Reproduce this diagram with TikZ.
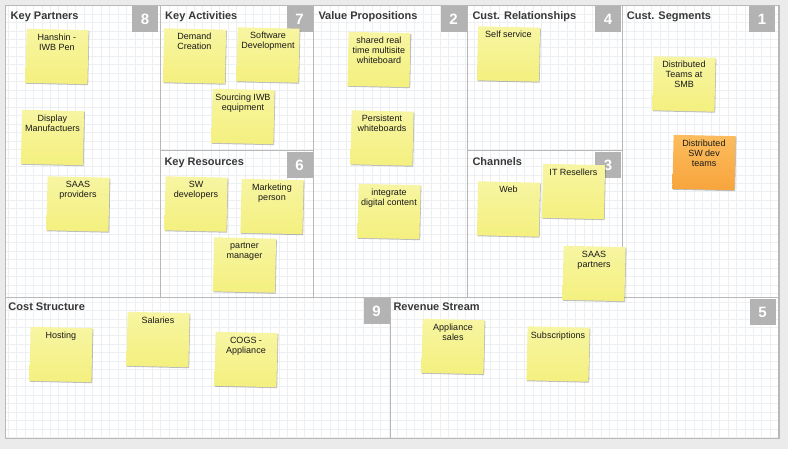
\documentclass[tikz,border=0pt]{standalone}
\usepackage{fontspec}
\setmainfont{Liberation Sans}
\usetikzlibrary{shadows}
\definecolor{bg}{HTML}{EBEBEB}
\definecolor{gridc}{HTML}{ECF0F3}
\definecolor{cellline}{HTML}{B8B8B8}
\definecolor{badgec}{HTML}{B3B3B3}
\definecolor{titlec}{HTML}{383838}
\definecolor{noteTop}{HTML}{F7F5A2}
\definecolor{noteBot}{HTML}{F4F07F}
\definecolor{orTop}{HTML}{FCBD5E}
\definecolor{orBot}{HTML}{F8A43C}
\newcommand{\notetext}[1]{\parbox[c][54pt][t]{62pt}{\centering\vspace*{4pt}\strut#1\par}}
\tikzset{
 cell/.style={draw=cellline, line width=1pt},
 gridline/.style={draw=gridc, line width=0.7pt},
 title/.style={anchor=base west, font=\fontsize{11}{13}\selectfont\bfseries, text=titlec, inner sep=0pt},
 badge/.style={fill=badgec, minimum size=26pt, inner sep=0pt, font=\fontsize{15}{15}\selectfont\bfseries, text=white},
 note/.style={inner sep=0pt, minimum width=62pt, minimum height=54pt, rotate=-1.3, top color=noteTop, bottom color=noteBot,
   drop shadow={shadow xshift=0.8pt, shadow yshift=-1pt, opacity=0.25, fill=black}},
 onote/.style={note, top color=orTop, bottom color=orBot},
 ntext/.style={inner sep=0pt, font=\fontsize{9}{10}\selectfont, text=black!90},
}
\newcommand{\sticky}[5][note]{%
  \node[#1] (#2) at (#3) {};
  \node[ntext] (#2t) at (#2.center) {\notetext{#4#5}};}
\begin{document}
\begin{tikzpicture}[x=1pt,y=-1pt]
\useasboundingbox (0,0) rectangle (788,449);
\fill[bg] (0,0) rectangle (788,449);
\fill[white] (5.5,5.5) rectangle (779,438.5);
% grid
\foreach \i in {0,...,90} {\draw[gridline] ({8+8.47*\i},5.5) -- ({8+8.47*\i},438.5);}
\foreach \j in {0,...,51} {\draw[gridline] (5.5,{5.5+8.47*\j}) -- (779,{5.5+8.47*\j});}
% cells
\draw[cell] (160,5.5) -- (160,298);
\draw[cell] (313,5.5) -- (313,298);
\draw[cell] (467,5.5) -- (467,298);
\draw[cell] (622,5.5) -- (622,298);
\draw[cell] (160,151) -- (313,151);
\draw[cell] (467,151) -- (622,151);
\draw[cell] (5.5,298) -- (779,298);
\draw[cell] (390.5,298) -- (390.5,438.5);
\draw[cell, line width=1.3pt] (5.5,5.5) rectangle (779,438.5);
% titles
\node[title] (tKP) at (10.5,20) {Key Partners};
\node[title] (tKA) at (165,20) {Key Activities};
\node[title] (tVP) at (318.3,20) {Value Propositions};
\node[title] (tCR) at (472.3,20) {Cust. Relationships};
\node[title] (tCS) at (626.7,20) {Cust. Segments};
\node[title] (tKR) at (164.3,166) {Key Resources};
\node[title] (tCH) at (472.3,166) {Channels};
\node[title] (tCost) at (8.3,311) {Cost Structure};
\node[title] (tRev) at (393.3,311) {Revenue Stream};
% badges
\node[badge] (b8) at (145,19) {8};
\node[badge] (b7) at (299.5,19) {7};
\node[badge] (b2) at (453.5,19) {2};
\node[badge] (b4) at (608,19) {4};
\node[badge] (b1) at (762,19) {1};
\node[badge] (b6) at (299.5,165) {6};
\node[badge] (b3) at (608,165) {3};
\node[badge] (b9) at (376.5,311.5) {9};
\node[badge] (b5) at (762.5,312) {5};
% notes
\sticky{n1}{57,56.5}{Hanshin -\\IWB Pen}{}
\sticky{n2}{52.5,137.5}{Display\\Manufactuers}{}
\sticky{n3}{78,204}{SAAS\\providers}{}
\sticky{n4}{194.5,56}{Demand\\Creation}{}
\sticky{n5}{268,55}{Software\\Development}{}
\sticky{n6}{243,116.5}{Sourcing IWB\\equipment}{}
\sticky{n7}{196,204}{SW\\developers}{}
\sticky{n8}{272,206.5}{Marketing\\person}{}
\sticky{n9}{244.5,265}{partner\\manager}{}
\sticky{n10}{379,59.5}{shared real\\time multisite\\whiteboard}{}
\sticky{n11}{382,138}{Persistent\\whiteboards}{}
\sticky{n12}{389,211.5}{integrate\\digital content}{}
\sticky{n13}{508.5,54}{Self service}{}
\sticky{n14}{508.5,209}{Web}{}
\sticky{n15}{573.5,191.5}{IT Resellers}{}
\sticky{n16}{594,273.5}{SAAS\\partners}{}
\sticky{n17}{684,84}{Distributed\\Teams at\\SMB}{}
\sticky[onote]{n18}{704,162.5}{Distributed\\SW dev\\teams}{}
\sticky{n19}{61,354.5}{Hosting}{}
\sticky{n20}{158,339.5}{Salaries}{}
\sticky{n21}{246,359.5}{COGS -\\Appliance}{}
\sticky{n22}{453,346.5}{Appliance\\sales}{}
\sticky{n23}{558,354}{Subscriptions}{}
\end{tikzpicture}
\end{document}
